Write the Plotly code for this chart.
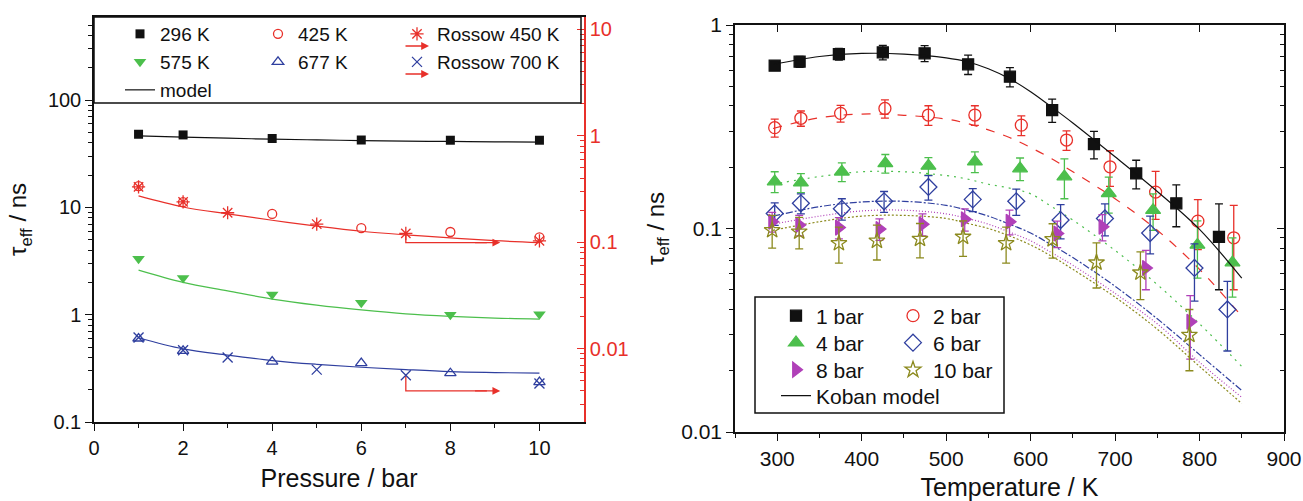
import math
import plotly.graph_objects as go

W, H = 1303, 501
FONT = "Liberation Sans, Arial, Helvetica, sans-serif"

# ---------------- Left panel data (pressure dependence) ----------------
p_meas = [1, 2, 4, 6, 8, 10]
tau_296 = [48.1, 47.4, 43.9, 42.5, 42.3, 42.3]
tau_425 = [15.8, 11.2, 8.7, 6.4, 5.9, 5.25]
tau_575 = [3.32, 2.2, 1.54, 1.29, 1.0, 1.01]
tau_677 = [0.60, 0.46, 0.366, 0.354, 0.285, 0.235]

p_rossow = [1, 2, 3, 5, 7, 10]
rossow_450 = [0.331, 0.239, 0.189, 0.148, 0.121, 0.103]       # right (red) axis
rossow_700 = [0.0127, 0.00964, 0.00823, 0.00634, 0.00561, 0.00469]

p_model = [1, 2, 3, 4, 5, 6, 7, 8, 9, 10]
model_296 = [46.5, 45.3, 44.2, 43.3, 42.6, 42.0, 41.5, 41.2, 40.9, 40.7]
model_425 = [12.8, 10.1, 8.7, 7.6, 6.7, 6.0, 5.55, 5.2, 4.9, 4.7]
model_575 = [2.6, 2.0, 1.67, 1.40, 1.23, 1.11, 1.02, 0.966, 0.93, 0.91]
model_677 = [0.61, 0.48, 0.42, 0.374, 0.345, 0.324, 0.308, 0.295, 0.289, 0.285]

# "to right axis" arrows: x from -> x to, start value, arrow level (left axis units)
arrow_x = [7, 9.12]
arrow_450 = [5.8, 4.7]
arrow_700 = [0.275, 0.195]

# ---------------- Right panel data (temperature dependence) ----------------
T_1 = [297, 326.5, 373, 425, 474.5, 526, 575.5, 625.5, 675, 725, 772.5, 823]
tau_1 = [0.631, 0.660, 0.720, 0.734, 0.726, 0.641, 0.557, 0.382, 0.260, 0.1865, 0.133, 0.091]
err_1 = [0.032, 0.04, 0.047, 0.06, 0.065, 0.07, 0.06, 0.05, 0.04, 0.03, 0.031, 0.041]

T_2 = [297, 328, 375, 427.5, 479, 534, 589, 642.5, 694, 748, 798, 840.5]
tau_2 = [0.313, 0.348, 0.368, 0.389, 0.361, 0.361, 0.322, 0.272, 0.201, 0.151, 0.1087, 0.090]
err_2 = [0.032, 0.03, 0.035, 0.04, 0.04, 0.04, 0.036, 0.03, 0.04, 0.04, 0.03, 0.04]

T_4 = [297, 328, 376.5, 428, 479, 534, 587.5, 640, 692.5, 745, 797.5, 839]
tau_4 = [0.170, 0.168, 0.190, 0.209, 0.203, 0.213, 0.197, 0.180, 0.149, 0.123, 0.083, 0.068]
err_4 = [0.02, 0.018, 0.02, 0.022, 0.02, 0.025, 0.025, 0.04, 0.03, 0.025, 0.026, 0.022]

T_6 = [297, 328, 376.5, 426.5, 479, 531.5, 583, 635.5, 688, 741.5, 794, 833]
tau_6 = [0.1186, 0.133, 0.125, 0.136, 0.160, 0.139, 0.136, 0.110, 0.112, 0.095, 0.064, 0.040]
err_6 = [0.015, 0.015, 0.015, 0.016, 0.022, 0.018, 0.02, 0.021, 0.02, 0.02, 0.02, 0.015]

T_8 = [294, 326, 373, 421, 472, 522, 575, 631.5, 685, 736.5, 789]
tau_8 = [0.108, 0.104, 0.101, 0.0995, 0.105, 0.111, 0.108, 0.0946, 0.102, 0.064, 0.0348]
err_8 = [0.012, 0.012, 0.012, 0.012, 0.013, 0.014, 0.015, 0.014, 0.015, 0.014, 0.012]

T_10 = [294, 326, 373, 418, 469, 520, 571, 626, 678, 730, 788]
tau_10 = [0.098, 0.0965, 0.0846, 0.087, 0.0888, 0.091, 0.0846, 0.0885, 0.068, 0.0607, 0.030]
err_10 = [0.018, 0.017, 0.017, 0.017, 0.017, 0.018, 0.017, 0.017, 0.017, 0.016, 0.01]

T_model = [295, 350, 400, 450, 500, 525, 550, 575, 600, 625, 650, 700, 750, 800, 850]
koban_1 = [0.64, 0.70, 0.725, 0.72, 0.69, 0.66, 0.61, 0.545, 0.47, 0.395, 0.33, 0.225, 0.152, 0.099, 0.057]
koban_2 = [0.31, 0.35, 0.365, 0.36, 0.345, 0.328, 0.305, 0.28, 0.25, 0.22, 0.19, 0.14, 0.098, 0.063, 0.037]
koban_4 = [0.165, 0.18, 0.19, 0.19, 0.182, 0.175, 0.165, 0.158, 0.148, 0.128, 0.11, 0.078, 0.053, 0.034, 0.021]
koban_6 = [0.115, 0.128, 0.135, 0.136, 0.13, 0.123, 0.115, 0.105, 0.095, 0.083, 0.072, 0.052, 0.036, 0.024, 0.016]
koban_8 = [0.105, 0.115, 0.122, 0.123, 0.118, 0.112, 0.105, 0.096, 0.087, 0.076, 0.066, 0.048, 0.034, 0.022, 0.0148]
koban_10 = [0.098, 0.108, 0.115, 0.116, 0.112, 0.106, 0.10, 0.092, 0.083, 0.073, 0.063, 0.046, 0.032, 0.021, 0.0138]

# tick labels
left_xticks = [0, 2, 4, 6, 8, 10]
left_yticks = [0.1, 1, 10, 100]
left_yticklabels = ["0.1", "1", "10", "100"]
red_yticks = [0.01, 0.1, 1, 10]
red_yticklabels = ["0.01", "0.1", "1", "10"]
right_xticks = [300, 400, 500, 600, 700, 800, 900]
right_yticks = [0.01, 0.1, 1]
right_yticklabels = ["0.01", "0.1", "1"]

# colours
BLACK = "#111111"
RED = "#e8302a"
GREEN = "#4cbf4c"
BLUE = "#2f3f9f"
MAG = "#b040b8"
OLIVE = "#8c8a1e"


def minor_log(lo, hi):
    vals = []
    for e in range(lo, hi):
        for d in range(2, 10):
            vals.append(d * 10 ** e)
    return vals


fig = go.Figure()

# ---------- left panel ----------
for ys, col, show in [(model_296, BLACK, True), (model_425, RED, False),
                      (model_575, GREEN, False), (model_677, BLUE, False)]:
    fig.add_trace(go.Scatter(x=p_model, y=ys, mode="lines", line=dict(color=col, width=1.2, shape="spline"),
                             name="model", showlegend=show, legend="legend3",
                             xaxis="x", yaxis="y", hoverinfo="skip"))

# arrows (vertical + horizontal segment)
for lv in (arrow_450, arrow_700):
    fig.add_trace(go.Scatter(x=[arrow_x[0], arrow_x[0], arrow_x[1] - 0.3], y=[lv[0], lv[1], lv[1]], mode="lines",
                             line=dict(color=RED, width=1.3), showlegend=False, hoverinfo="skip",
                             xaxis="x", yaxis="y"))

# legend row 1: 296 K, 425 K | Rossow 450 K ; row 2: 575 K, 677 K | Rossow 700 K
fig.add_trace(go.Scatter(x=p_meas, y=tau_296, mode="markers", name="296 K", legend="legend",
                         marker=dict(symbol="square", size=9, color=BLACK), xaxis="x", yaxis="y"))
fig.add_trace(go.Scatter(x=p_meas, y=tau_425, mode="markers", name="425 K", legend="legend",
                         marker=dict(symbol="circle-open", size=9, color=RED, line=dict(width=1.3)),
                         xaxis="x", yaxis="y"))
fig.add_trace(go.Scatter(x=p_rossow, y=rossow_450, mode="markers", name="Rossow 450 K", legend="legend8",
                         marker=dict(symbol="asterisk-open", size=11, color=RED, line=dict(width=1.3, color=RED)),
                         xaxis="x", yaxis="y2"))
fig.add_trace(go.Scatter(x=p_meas, y=tau_575, mode="markers", name="575 K", legend="legend2",
                         marker=dict(symbol="triangle-down", size=11, color=GREEN), xaxis="x", yaxis="y"))
fig.add_trace(go.Scatter(x=p_meas, y=tau_677, mode="markers", name="677 K", legend="legend2",
                         marker=dict(symbol="triangle-up-open", size=10, color=BLUE, line=dict(width=1.3)),
                         xaxis="x", yaxis="y"))
fig.add_trace(go.Scatter(x=p_rossow, y=rossow_700, mode="markers", name="Rossow 700 K", legend="legend9",
                         marker=dict(symbol="x-thin-open", size=10, color=BLUE, line=dict(width=1.3, color=BLUE)),
                         xaxis="x", yaxis="y2"))

# ---------- right panel ----------
series = [
    (T_1, tau_1, err_1, koban_1, BLACK, "square", 11, "1 bar", "legend4", "solid"),
    (T_2, tau_2, err_2, koban_2, RED, "circle-open", 12, "2 bar", "legend4", "dash"),
    (T_4, tau_4, err_4, koban_4, GREEN, "triangle-up", 13, "4 bar", "legend5", "2px,5px"),
    (T_6, tau_6, err_6, koban_6, BLUE, "diamond-open", 13, "6 bar", "legend5", "7px,2px,2px,2px"),
    (T_8, tau_8, err_8, koban_8, MAG, "triangle-right", 13, "8 bar", "legend6", "1px,2px"),
    (T_10, tau_10, err_10, koban_10, OLIVE, "star-open", 12, "10 bar", "legend6", "2px,2px"),
]
for i, (tx, ty, te, km, col, sym, sz, nm, lg, dash) in enumerate(series[1:]):
    fig.add_trace(go.Scatter(x=T_model, y=km, mode="lines", line=dict(color=col, width=1.2, dash=dash, shape="spline"),
                             showlegend=False, xaxis="x3", yaxis="y3", hoverinfo="skip"))
for i, (tx, ty, te, km, col, sym, sz, nm, lg, dash) in enumerate(series):
    fig.add_trace(go.Scatter(x=tx, y=ty, mode="markers", name=nm, legend=lg,
                             marker=dict(symbol=sym, size=sz, color=col, line=dict(width=1.3, color=col)),
                             error_y=dict(type="data", array=te, visible=True, color=col, thickness=1.3, width=4),
                             xaxis="x3", yaxis="y3"))
# black Koban model line; drawn on the overlay axes (same ranges) so those mirrored axes exist
fig.add_trace(go.Scatter(x=T_model, y=koban_1, mode="lines", name="Koban model", legend="legend7",
                         line=dict(color=BLACK, width=1.2, shape="spline"),
                         xaxis="x4", yaxis="y4", hoverinfo="skip"))

# ---------- layout ----------
Lx0, Lx1, Ly0, Ly1 = 94, 584, 17, 422
Rx0, Rx1, Ry0, Ry1 = 735, 1284, 25, 432

axis_common = dict(showgrid=False, zeroline=False, showline=True, linecolor=BLACK, linewidth=1.5,
                   tickcolor=BLACK, tickwidth=1.3, tickfont=dict(size=20, color=BLACK, family=FONT))


def row_legend(x_px, y_px, size, entry_w=None):
    d = dict(bgcolor="rgba(0,0,0,0)", borderwidth=0, font=dict(size=size, color=BLACK, family=FONT),
             xanchor="left", yanchor="middle", orientation="h", x=x_px / W, y=1 - y_px / H,
             itemclick=False, itemdoubleclick=False)
    if entry_w is not None:
        d.update(entrywidth=entry_w, entrywidthmode="pixels")
    return d


fig.update_layout(
    width=W, height=H, margin=dict(l=0, r=0, t=0, b=0, autoexpand=False),
    paper_bgcolor="white", plot_bgcolor="white",
    font=dict(family=FONT, color=BLACK),
    xaxis=dict(axis_common, domain=[Lx0 / W, Lx1 / W], range=[0, 11], anchor="y", mirror=True,
               tickmode="array", tickvals=left_xticks, ticks="outside", ticklen=7,
               minor=dict(tickmode="array", tickvals=[1, 3, 5, 7, 9], ticks="outside", ticklen=4,
                          tickcolor=BLACK),
               title=dict(text="Pressure / bar", font=dict(size=25, family=FONT), standoff=12)),
    yaxis=dict(axis_common, domain=[1 - Ly1 / H, 1 - Ly0 / H], type="log", range=[-1, 2.775], anchor="x",
               tickmode="array", tickvals=left_yticks, ticktext=left_yticklabels, ticks="outside", ticklen=7,
               minor=dict(tickmode="array", tickvals=minor_log(-1, 3), ticks="outside", ticklen=4,
                          tickcolor=BLACK),
               title=dict(text="τ<sub>eff</sub> / ns", font=dict(size=24, family=FONT), standoff=14)),
    yaxis2=dict(axis_common, overlaying="y", side="right", anchor="x", type="log", range=[-2.69, 1.116],
                linecolor=RED, tickcolor=RED, tickfont=dict(size=20, color=RED, family=FONT),
                tickmode="array", tickvals=red_yticks, ticktext=red_yticklabels, ticks="inside", ticklen=7,
                minor=dict(tickmode="array", tickvals=minor_log(-3, 2), ticks="inside", ticklen=4,
                           tickcolor=RED)),
    xaxis3=dict(axis_common, domain=[Rx0 / W, Rx1 / W], range=[250, 900], anchor="y3", mirror=True,
                tickmode="array", tickvals=right_xticks, ticks="outside", ticklen=7,
                tickfont=dict(size=21, color=BLACK, family=FONT), ticklabeloverflow="allow",
                minor=dict(tickmode="array", tickvals=[250, 350, 450, 550, 650, 750, 850], ticks="outside",
                           ticklen=4, tickcolor=BLACK),
                title=dict(text="Temperature / K", font=dict(size=25, family=FONT), standoff=10)),
    yaxis3=dict(axis_common, domain=[1 - Ry1 / H, 1 - Ry0 / H], type="log", range=[-2, 0], anchor="x3",
                mirror=True, tickmode="array", tickvals=right_yticks, ticktext=right_yticklabels,
                ticks="outside", ticklen=7, tickfont=dict(size=21, color=BLACK, family=FONT),
                minor=dict(tickmode="array", tickvals=minor_log(-2, 0), ticks="outside", ticklen=4,
                           tickcolor=BLACK),
                title=dict(text="τ<sub>eff</sub> / ns", font=dict(size=24, family=FONT), standoff=10)),
    xaxis4=dict(overlaying="x3", side="top", anchor="y3", range=[250, 900], showgrid=False, zeroline=False,
                showline=False, tickmode="array", tickvals=right_xticks, ticks="inside", ticklen=7,
                tickcolor=BLACK, tickwidth=1.3, showticklabels=False),
    yaxis4=dict(overlaying="y3", side="right", anchor="x3", type="log", range=[-2, 0], showgrid=False,
                zeroline=False, showline=False, tickmode="array", tickvals=right_yticks, ticks="inside",
                ticklen=7, tickcolor=BLACK, tickwidth=1.3, showticklabels=False,
                minor=dict(tickmode="array", tickvals=minor_log(-2, 0), ticks="inside", ticklen=4,
                           tickcolor=BLACK)),
    legend=row_legend(120, 34, 19, 93),
    legend2=row_legend(120, 62, 19, 93),
    legend3=row_legend(120, 90, 19),
    legend8=row_legend(397, 34, 19),
    legend9=row_legend(397, 62, 19),
    legend4=row_legend(776, 316, 21, 72),
    legend5=row_legend(776, 343, 21, 72),
    legend6=row_legend(776, 370, 21, 72),
    legend7=row_legend(776, 396, 21),
    showlegend=True,
)

# legend frames
fig.add_shape(type="rect", xref="paper", yref="paper", x0=Lx0 / W, x1=581 / W, y0=1 - 103 / H, y1=1 - Ly0 / H,
              line=dict(color=BLACK, width=1.5), fillcolor="rgba(0,0,0,0)", layer="above")
fig.add_shape(type="rect", xref="paper", yref="paper", x0=755 / W, x1=1004 / W, y0=1 - 413 / H, y1=1 - 297 / H,
              line=dict(color=BLACK, width=1.5), fillcolor="rgba(0,0,0,0)", layer="above")

# arrow heads in the left panel (pointing to the right axis)
for lv in (arrow_450, arrow_700):
    fig.add_annotation(x=arrow_x[1], y=math.log10(lv[1]), xref="x", yref="y",
                       ax=arrow_x[1] - 0.6, ay=math.log10(lv[1]), axref="x", ayref="y",
                       text="", showarrow=True, arrowhead=2, arrowsize=1.2, arrowwidth=1.3, arrowcolor=RED)
# arrows under the Rossow legend symbols
for yy in (46, 74):
    fig.add_annotation(x=429 / W, y=1 - yy / H, xref="paper", yref="paper", ax=-25, ay=0,
                       text="", showarrow=True, arrowhead=2, arrowsize=1.2, arrowwidth=1.3, arrowcolor=RED)

fig.write_html("out.html")
